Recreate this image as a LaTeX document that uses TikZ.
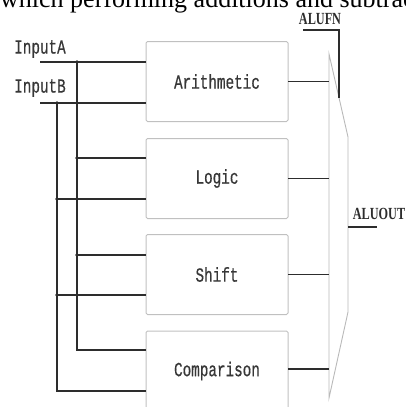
\documentclass[tikz,border=0pt]{standalone}
\usepackage{fontspec}
\setmainfont{Liberation Serif}
\newfontfamily\labelmono[FakeBold=0.7]{Liberation Mono}
\newcommand\lbltxt[1]{\scalebox{1}[1.4]{#1}}
\newcommand\sigtxt[1]{\scalebox{0.72}[1]{\bfseries #1}}
\definecolor{boxgray}{RGB}{192,192,192}
\definecolor{muxgray}{RGB}{185,185,185}
\definecolor{wiregray}{RGB}{45,45,45}
\definecolor{txtgray}{RGB}{55,55,55}
\begin{document}
\begin{tikzpicture}[x=1pt,y=-1pt,
  blk/.style={draw=boxgray, line width=1pt, rounded corners=1.5pt, minimum width=142pt, minimum height=80pt, inner sep=0pt, outer sep=0pt, text=txtgray, font=\labelmono\fontsize{14.3}{14.3}\selectfont},
  wire/.style={draw=wiregray, line width=1.4pt},
  muxline/.style={draw=muxgray, line width=0.9pt, line join=miter},
  jdot/.style={circle, fill=wiregray, inner sep=0pt, minimum size=3.6pt},
  lbl/.style={inner sep=0pt, text=txtgray, font=\labelmono\fontsize{14.3}{14.3}\selectfont},
  sig/.style={inner sep=0pt, text=wiregray, font=\fontsize{17}{17}\selectfont}]
\useasboundingbox (0,0) rectangle (406,407);
\clip (0,0) rectangle (406,407);

% clipped caption line from the surrounding text
\node[inner sep=0pt, anchor=base west, font=\fontsize{26}{26}\selectfont] (cap) at (0,7) {which performing additions and subtrac};

% function blocks
\node[blk] (ar) at (217,81.5) {\lbltxt{Arithmetic}};
\node[blk] (lo) at (217,178.5) {\lbltxt{Logic}};
\node[blk] (sh) at (217,274.5) {\lbltxt{Shift}};
\node[blk] (cm) at (217,371) {\lbltxt{Comparison}};

% multiplexer
\coordinate (mTL) at (329,54);
\coordinate (mTR) at (348,137);
\coordinate (mBR) at (348,312);
\coordinate (mBL) at (329,398);
\draw[muxline] (mTL) -- (mTR) -- (mBR) -- (mBL) -- cycle;

% input labels
\node[lbl] (la) at (40,49) {\lbltxt{InputA}};
\node[lbl] (lb) at (40,88) {\lbltxt{InputB}};

% input wires
\coordinate (inA) at (40,62);
\coordinate (inB) at (40,103);
\coordinate (jA) at (77,62);
\coordinate (jB) at (57,103);
\draw[wire] (inA) -- (inA -| ar.west);
\draw[wire] (inB) -- (inB -| ar.west);
\coordinate (cA) at (77,350);
\coordinate (cB) at (57,391);
\draw[wire] (jA) -- (cA) -- (cA -| cm.west);
\draw[wire] (jB) -- (cB) -- (cB -| cm.west);
\coordinate (lA) at (77,158);
\coordinate (lB) at (57,199);
\coordinate (sA) at (77,255);
\coordinate (sB) at (57,295);
\draw[wire] (lA) -- (lA -| lo.west);
\draw[wire] (lB) -- (lB -| lo.west);
\draw[wire] (sA) -- (sA -| sh.west);
\draw[wire] (sB) -- (sB -| sh.west);
\foreach \p in {jA,jB,lA,lB,sA,sB} \node[jdot] at (\p) {};

% outputs to multiplexer
\draw[wire] (ar.east) -- (ar.east -| mTL);
\draw[wire] (lo.east) -- (lo.east -| mTL);
\draw[wire] (sh.east) -- (sh.east -| mTL);
\draw[wire] (cm.east) ++(0,-2) coordinate (cmo) -- (cmo -| mTL);

% select and output
\node[sig] (fn) at (320,19) {\sigtxt{ALUFN}};
\coordinate (fnA) at (303,30);
\coordinate (fnB) at (339,98);
\draw[wire] (fnA) -| (fnB);
\node[sig] (out) at (379,213.5) {\sigtxt{ALUOUT}};
\coordinate (oA) at (348,227);
\coordinate (oB) at (377,227);
\draw[wire] (oA) -- (oB);
\end{tikzpicture}
\end{document}
